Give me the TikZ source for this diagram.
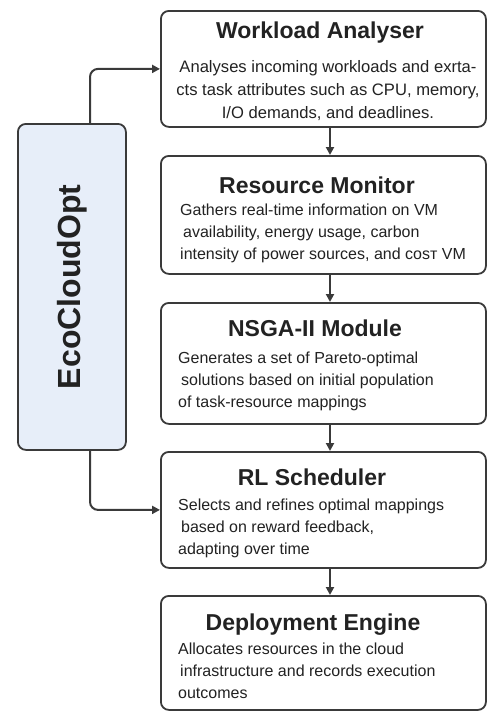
\documentclass[tikz,border=0pt]{standalone}
\usepackage{fontspec}
\setmainfont{Liberation Sans}
\usetikzlibrary{arrows.meta}
\definecolor{edge}{HTML}{3A3A3A}
\definecolor{ink}{HTML}{222222}
\definecolor{ecofill}{HTML}{E7EEF9}
\tikzset{
  stagebox/.style={draw=edge, line width=1.8pt, rounded corners=8pt, fill=white,
    minimum width=325pt, anchor=north west, inner sep=0pt},
  ecobox/.style={draw=edge, line width=1.8pt, rounded corners=8pt, fill=ecofill,
    minimum width=108pt, minimum height=326pt, anchor=north west, inner sep=0pt},
  ttl/.style={font=\fontsize{23}{27}\selectfont\bfseries, text=ink, inner sep=0pt, anchor=base},
  bdy/.style={font=\fontsize{16}{22}\selectfont, text=ink, inner sep=0pt, align=left, anchor=north west},
  arr/.style={draw=edge, line width=2pt, -{Triangle[length=8pt,width=8pt]}},
}
\newcommand{\fl}{\rule{0pt}{12pt}}
\begin{document}
\begin{tikzpicture}[x=1pt,y=-1pt]
\useasboundingbox (0,0) rectangle (487,712);
% boxes
\node[stagebox, minimum height=116pt] (wa) at (160,10) {};
\node[stagebox, minimum height=118pt] (rm) at (160,155) {};
\node[stagebox, minimum height=121pt] (ns) at (160,302) {};
\node[stagebox, minimum height=116pt] (rl) at (160,451) {};
\node[stagebox, minimum height=114pt] (de) at (160,595) {};
\node[ecobox] (eco) at (17,123) {};
\node[font=\fontsize{32}{36}\selectfont\bfseries, text=ink, rotate=90, inner sep=0pt] (ecot) at (eco.center) {EcoCloudOpt};
% titles
\node[ttl] (wat) at (320,38) {Workload Analyser};
\node[ttl] (rmt) at (317,193) {Resource Monitor};
\node[ttl] (nst) at (315,336) {NSGA-II Module};
\node[ttl] (rlt) at (312,485) {RL Scheduler};
\node[ttl] (det) at (313,630) {Deployment Engine};
% bodies
\node[bdy, align=center, anchor=north, font=\fontsize{16.6}{23}\selectfont] (wab) at (328,60)
  {\fl Analyses incoming workloads and exrta-\\cts task attributes such as CPU, memory,\\I/O demands, and deadlines.};
\node[bdy] (rmb) at (180,203)
  {\fl Gathers real-time information on VM\\\hspace*{3pt}availability, energy usage, carbon\\intensity of power sources, and cosт VM};
\node[bdy] (nsb) at (178,351)
  {\fl Generates a set of Pareto-optimal\\\hspace*{3pt}solutions based on initial population\\of task-resource mappings};
\node[bdy] (rlb) at (178,498)
  {\fl Selects and refines optimal mappings\\\hspace*{3pt}based on reward feedback,\\adapting over time};
\node[bdy] (deb) at (178,642)
  {\fl Allocates resources in the cloud\\\hspace*{2pt}infrastructure and records execution\\outcomes};
% connectors
\coordinate (ax) at (330,0);
\coordinate (lx) at (90,0);
\draw[arr] (wa.south -| ax) -- (rm.north -| ax);
\draw[arr] (rm.south -| ax) -- (ns.north -| ax);
\draw[arr] (ns.south -| ax) -- (rl.north -| ax);
\draw[arr] (rl.south -| ax) -- (de.north -| ax);
\draw[arr, rounded corners=8pt] (eco.north -| lx) |- (wa.west);
\draw[arr, rounded corners=8pt] (eco.south -| lx) |- (rl.west);
\end{tikzpicture}
\end{document}
